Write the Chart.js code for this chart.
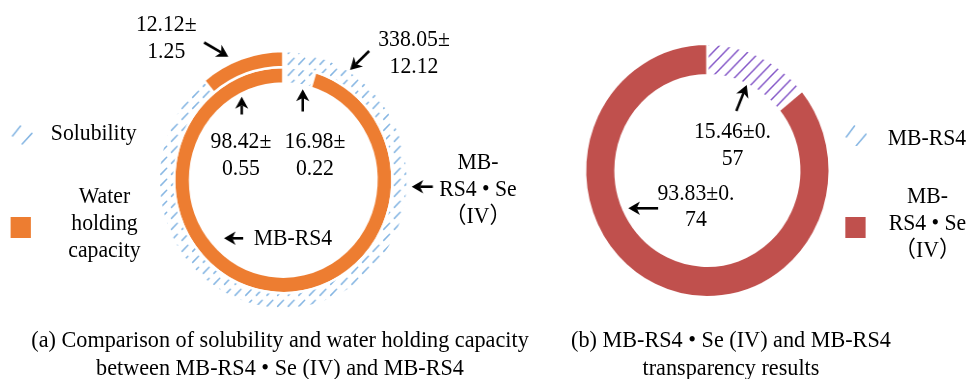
<!DOCTYPE html>
<html>
<head>
<meta charset="utf-8">
<script src="https://cdn.jsdelivr.net/npm/chart.js@4.4.0/dist/chart.umd.min.js"></script>
<style>
  html, body { margin: 0; padding: 0; background: #fff; }
  body { width: 971px; height: 379px; overflow: hidden; }
  #stage {
    position: relative; width: 1006px; height: 379px;
    transform: scaleX(0.965); transform-origin: 0 0;
    font-family: "Liberation Serif", "Times New Roman", "Noto Sans CJK SC", serif;
    color: #000;
  }
  #stage canvas { position: absolute; }
  .t {
    position: absolute; white-space: nowrap; text-align: center;
    font-size: 22.5px; line-height: 26.7px;
    transform: translate(-50%, -50%);
  }
  .cap { font-size: 23px; line-height: 28px; }
  .sw { position: absolute; }
</style>
</head>
<body>
<div id="stage">
  <canvas id="ringsA" width="587" height="360" style="left:0;top:0"></canvas>
  <canvas id="ringB" width="292" height="341" style="left:587px;top:0"></canvas>
</div>
<script>
// ---- data -------------------------------------------------------------
const measureNames = ['Solubility', 'Water holding capacity'];
const sampleNames = ['MB-RS4', 'MB-RS4 • Se (IV)'];

// outer ring: MB-RS4 • Se (IV); inner ring: MB-RS4  (order: solubility, water holding)
const outerValues = [98.42, 12.12];
const outerErrors = [0.55, 1.25];
const innerValues = [16.98, 338.05];
const innerErrors = [0.22, 12.12];

// transparency: MB-RS4, MB-RS4 • Se (IV)
const transparencyValues = [15.46, 93.83];
const transparencyErrors = [0.57, 0.74];

// ---- styling ------------------------------------------------------------
const ORANGE = '#ED7D31';
const RED = '#C0504D';
const HATCH_BLUE = '#86B6E3';
const HATCH_PURPLE = '#8558C8';

function hatchPattern(color, size, lw, dashed) {
  const c = document.createElement('canvas');
  c.width = size; c.height = size;
  const g = c.getContext('2d');
  g.strokeStyle = color; g.lineWidth = lw; g.lineCap = 'round';
  g.beginPath();
  if (dashed) {
    g.moveTo(size * 0.15, size * 0.85);
    g.lineTo(size * 0.7, size * 0.3);
  } else {
    g.moveTo(0, size); g.lineTo(size, 0);
    g.moveTo(-2, 2); g.lineTo(2, -2);
    g.moveTo(size - 2, size + 2); g.lineTo(size + 2, size - 2);
  }
  g.stroke();
  return g.createPattern(c, 'repeat');
}

const blueHatch = hatchPattern(HATCH_BLUE, 11, 1.5, true);
const purpleHatch = hatchPattern(HATCH_PURPLE, 12, 1.5, false);

// ---- arrows ------------------------------------------------------------
function drawArrow(ctx, x1, y1, x2, y2) {
  const ang = Math.atan2(y2 - y1, x2 - x1);
  const len = 12, half = 6.8;
  const bx = x2 - Math.cos(ang) * len, by = y2 - Math.sin(ang) * len;
  const nx = x2 - Math.cos(ang) * len * 0.72, ny = y2 - Math.sin(ang) * len * 0.72;
  ctx.lineWidth = 2.6;
  ctx.beginPath();
  ctx.moveTo(x1, y1); ctx.lineTo(nx, ny); ctx.stroke();
  ctx.beginPath();
  ctx.moveTo(x2, y2);
  ctx.lineTo(bx - Math.sin(ang) * half, by + Math.cos(ang) * half);
  ctx.lineTo(nx, ny);
  ctx.lineTo(bx + Math.sin(ang) * half, by - Math.cos(ang) * half);
  ctx.closePath(); ctx.fill();
}

const arrowPlugin = {
  id: 'arrows',
  afterDraw(chart, args, opts) {
    const { ctx, chartArea } = chart;
    const cx = (chartArea.left + chartArea.right) / 2;
    const cy = (chartArea.top + chartArea.bottom) / 2;
    ctx.save();
    ctx.fillStyle = '#000'; ctx.strokeStyle = '#000';
    (opts.items || []).forEach(a => drawArrow(ctx, cx + a[0], cy + a[1], cx + a[2], cy + a[3]));
    ctx.restore();
  }
};

const baseOptions = {
  responsive: false,
  animation: false,
  events: [],
  layout: { padding: 0 },
  plugins: { legend: { display: false }, tooltip: { enabled: false } }
};

// ---- (a) solubility & water holding capacity --------------------------
const chartA = new Chart(document.getElementById('ringsA'), {
  type: 'doughnut',
  data: {
    labels: measureNames,
    datasets: [
      { label: sampleNames[1], data: outerValues, weight: 15.9,
        backgroundColor: [blueHatch, ORANGE], borderColor: '#fff', borderWidth: 2.5 },
      { label: sampleNames[0], data: innerValues, weight: 16.5,
        backgroundColor: [blueHatch, ORANGE], borderColor: '#fff', borderWidth: 2.5 }
    ]
  },
  options: Object.assign({}, baseOptions, {
    radius: 129,
    cutout: '74.9%',
    plugins: Object.assign({}, baseOptions.plugins, {
      arrows: { items: [
        [-82, -137.5, -56.9, -123.3],
        [89, -129, 69.2, -110],
        [-43, -65.5, -43, -83.3],
        [20.2, -68.5, 20.2, -90.7],
        [-41.5, 58.3, -61.4, 58.3],
        [155, 6.7, 133.1, 6.7]
      ] }
    })
  }),
  plugins: [arrowPlugin]
});

// ---- (b) transparency --------------------------------------------------
const chartB = new Chart(document.getElementById('ringB'), {
  type: 'doughnut',
  data: {
    labels: sampleNames,
    datasets: [
      { data: transparencyValues,
        backgroundColor: [purpleHatch, RED], borderColor: '#fff', borderWidth: 2.5 }
    ]
  },
  options: Object.assign({}, baseOptions, {
    radius: 126.75,
    cutout: '75.1%',
    plugins: Object.assign({}, baseOptions.plugins, {
      arrows: { items: [
        [30, -59.5, 40.8, -85.5],
        [-51, 37.8, -81.9, 37.8]
      ] }
    })
  }),
  plugins: [arrowPlugin]
});

// ---- text ----------------------------------------------------------------
const stage = document.getElementById('stage');

function addText(lines, x, y, cls) {
  const d = document.createElement('div');
  d.className = 't' + (cls ? ' ' + cls : '');
  d.style.left = x + 'px';
  d.style.top = y + 'px';
  lines.forEach((l, i) => {
    if (i) d.appendChild(document.createElement('br'));
    d.appendChild(document.createTextNode(l));
  });
  stage.appendChild(d);
}

function valueText(v, e, cut) {
  const s = v.toFixed(2) + '±' + e.toFixed(2);
  return [s.slice(0, cut), s.slice(cut)];
}

function addSwatch(x, y, w, h, fill) {
  const c = document.createElement('canvas');
  c.className = 'sw';
  c.width = w; c.height = h;
  c.style.left = x + 'px'; c.style.top = y + 'px';
  const g = c.getContext('2d');
  if (fill === 'hatch') {
    g.strokeStyle = HATCH_BLUE; g.lineWidth = 1.6; g.lineCap = 'round';
    g.beginPath();
    g.moveTo(1, h * 0.55); g.lineTo(w * 0.42, 1);
    g.moveTo(w * 0.5, h - 1); g.lineTo(w - 1, h * 0.42);
    g.stroke();
  } else {
    g.fillStyle = fill; g.fillRect(0, 0, w, h);
  }
  stage.appendChild(c);
}

const ACX = 293.5, ACY = 180, BCX = 733, BCY = 170.5;

// value labels, ring (a)
addText(valueText(outerValues[1], outerErrors[1], outerValues[1].toFixed(2).length + 1), ACX - 121.2, ACY - 141.6);
addText(valueText(innerValues[1], innerErrors[1], innerValues[1].toFixed(2).length + 1), ACX + 135.5, ACY - 126.6);
addText(valueText(outerValues[0], outerErrors[0], outerValues[0].toFixed(2).length + 1), ACX - 43.8, ACY - 25);
addText(valueText(innerValues[0], innerErrors[0], innerValues[0].toFixed(2).length + 1), ACX + 32.9, ACY - 25);
addText([sampleNames[0]], ACX + 10.1, ACY + 58.3);
addText(['MB-', 'RS4 • Se', '（IV）'], ACX + 201.8, ACY + 9.3);

// value labels, ring (b)
addText(valueText(transparencyValues[0], transparencyErrors[0], 8), BCX + 26.1, BCY - 25.5);
addText(valueText(transparencyValues[1], transparencyErrors[1], 8), BCX - 11.8, BCY + 36.2);

// legend (a)
addSwatch(12, 125, 22, 20, 'hatch');
addText([measureNames[0]], 97.1, 133.3);
addSwatch(11.4, 216.7, 21.5, 21.6, ORANGE);
addText(['Water', 'holding', 'capacity'], 108.3, 223.3);

// legend (b)
addSwatch(875.6, 125, 22.5, 21.7, 'hatch');
addText([sampleNames[0]], 960.6, 138);
addSwatch(875.6, 216.7, 21.8, 21.6, RED);
addText(['MB-', 'RS4 • Se', '（IV）'], 961.1, 223.3);

// captions
addText(['(a) Comparison of solubility and water holding capacity',
         'between MB-RS4 • Se (IV) and MB-RS4'], 290.2, 354, 'cap');
addText(['(b) MB-RS4 • Se (IV) and MB-RS4', 'transparency results'], 757.5, 354, 'cap');
</script>
</body>
</html>
